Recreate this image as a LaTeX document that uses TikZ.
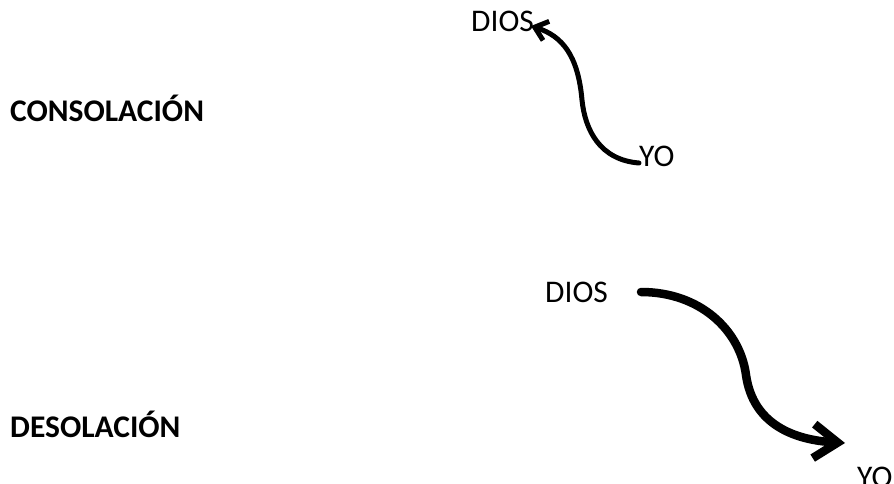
\documentclass[tikz,border=0pt]{standalone}
\usepackage{fontspec}
\setmainfont{Carlito}
\usetikzlibrary{arrows.meta}
\tikzset{
  lbl/.style={anchor=base west, inner sep=0pt, font=\fontsize{31.5}{36}\selectfont},
  ttl/.style={lbl, font=\fontsize{31.5}{36}\selectfont\bfseries},
  arrA/.style={line width=5pt, line cap=round, -{Straight Barb[length=12pt,width=20pt]}},
  arrB/.style={line width=8.5pt, line cap=round, -{Straight Barb[length=24pt,width=34pt]}},
}
\begin{document}
\begin{tikzpicture}[x=1pt,y=-1pt]
\useasboundingbox (0,0) rectangle (894,484);
\clip (0,0) rectangle (894,484);
\node[ttl] (cons) at (10,122) {CONSOLACIÓN};
\node[ttl] (deso) at (10,437) {DESOLACIÓN};
\node[lbl] (dios1) at (471,32) {DIOS};
\node[lbl] (yo1) at (639,167) {YO};
\node[lbl] (dios2) at (545,302) {DIOS};
\node[lbl] (yo2) at (857,487) {YO};
\coordinate (a1s) at (639,163);
\coordinate (a1e) at (531,26);
\coordinate (a2s) at (641,292);
\coordinate (a2e) at (845,443);
\draw[arrA] (a1s) .. controls (600,160) and (585,130) .. (582,100)
  .. controls (578,55) and (562,36) .. (a1e);
\draw[arrB] (a2s) .. controls (700,292) and (740,330) .. (746,375)
  .. controls (753,425) and (795,440) .. (a2e);
\end{tikzpicture}
\end{document}
